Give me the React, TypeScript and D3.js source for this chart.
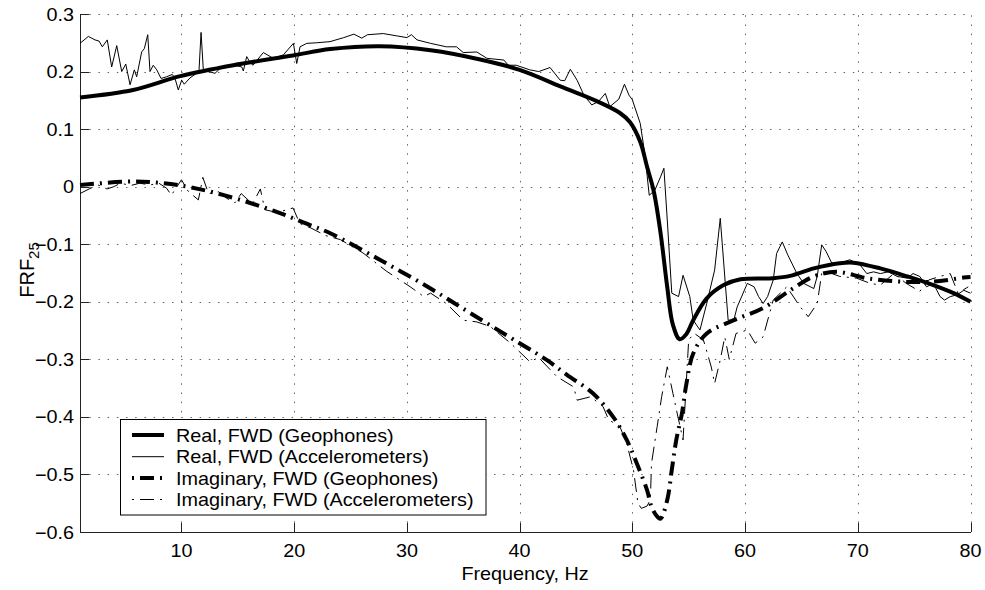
import React from "react";
import * as d3 from "d3";

// ---------- data ----------
const realGeoF = [1, 5.7, 9.9, 14.6, 19.9, 23.2, 27.6, 32.1, 36.5, 40.0, 43.9, 46.8, 48.9, 49.8, 50.7, 51.3, 51.9, 52.5, 53.1, 53.6, 54.2, 54.8, 55.4, 56.6, 58.1, 59.6, 62.5, 64.0, 66.1, 68.4, 69.6, 72.0, 74.4, 76.7, 78.5, 80];
const realGeoV = [0.155, 0.168, 0.192, 0.211, 0.228, 0.239, 0.244, 0.237, 0.221, 0.203, 0.172, 0.149, 0.128, 0.112, 0.078, 0.035, -0.008, -0.08, -0.175, -0.240, -0.265, -0.256, -0.232, -0.194, -0.171, -0.161, -0.159, -0.155, -0.142, -0.133, -0.132, -0.142, -0.156, -0.171, -0.185, -0.200];

const imagGeoF = [1, 5.7, 8.4, 10.8, 14.0, 18.2, 20.8, 23.2, 27.6, 32.1, 35.9, 40.0, 42.4, 44.2, 46.5, 48.3, 49.5, 50.4, 51.3, 51.7, 52.2, 52.5, 53.1, 53.5, 53.9, 54.4, 54.8, 55.4, 56.6, 59.0, 61.6, 64.0, 66.1, 68.1, 70.8, 73.8, 76.7, 79.4, 80];
const imagGeoV = [0.003, 0.009, 0.006, -0.001, -0.016, -0.042, -0.062, -0.081, -0.127, -0.177, -0.223, -0.272, -0.301, -0.327, -0.359, -0.400, -0.440, -0.481, -0.527, -0.556, -0.573, -0.577, -0.544, -0.492, -0.440, -0.394, -0.342, -0.290, -0.255, -0.232, -0.211, -0.180, -0.156, -0.148, -0.159, -0.165, -0.165, -0.158, -0.157];

const realAccF = [1.0, 1.74, 2.33, 2.69, 2.98, 3.42, 3.81, 4.26, 4.70, 5.06, 5.44, 5.82, 6.03, 6.47, 6.71, 7.01, 7.21, 7.50, 7.81, 8.19, 8.69, 9.19, 9.43, 9.72, 10.02, 10.25, 10.76, 11.35, 11.56, 11.74, 11.94, 12.38, 12.98, 13.57, 14.16, 14.75, 15.35, 15.49, 15.79, 16.08, 16.35, 17.26, 18.15, 19.04, 19.93, 20.23, 20.52, 21.12, 22.0, 23.18, 24.4, 25.3, 26.0, 26.5, 27.9, 29.1, 30.0, 30.4, 30.9, 32.1, 33.5, 34.4, 35.0, 36.2, 37.1, 38.6, 39.0, 39.7, 40.9, 41.7, 42.7, 43.6, 44.0, 44.5, 45.1, 45.7, 46.4, 47.0, 47.6, 48.0, 48.8, 49.3, 49.7, 50.0, 50.7, 51.1, 51.5, 52.0, 52.5, 52.8, 53.1, 53.5, 54.1, 54.5, 55.1, 55.4, 56.0, 56.6, 57.3, 57.8, 58.5, 59.0, 59.3, 60.2, 60.8, 61.2, 61.6, 62.0, 62.5, 62.8, 63.3, 63.8, 64.6, 65.2, 66.1, 66.4, 66.8, 67.2, 67.7, 68.4, 69.3, 70.2, 70.8, 71.4, 72.0, 72.7, 73.5, 74.4, 74.9, 75.5, 76.1, 76.7, 77.3, 77.7, 78.2, 78.8, 79.4, 80];
const realAccV = [0.249, 0.261, 0.255, 0.253, 0.243, 0.255, 0.208, 0.245, 0.200, 0.213, 0.177, 0.203, 0.191, 0.234, 0.240, 0.264, 0.200, 0.211, 0.203, 0.188, 0.191, 0.195, 0.188, 0.168, 0.185, 0.178, 0.189, 0.197, 0.203, 0.268, 0.203, 0.200, 0.197, 0.208, 0.208, 0.211, 0.208, 0.201, 0.226, 0.216, 0.211, 0.233, 0.223, 0.229, 0.249, 0.214, 0.243, 0.249, 0.250, 0.252, 0.259, 0.265, 0.258, 0.264, 0.266, 0.262, 0.259, 0.264, 0.255, 0.249, 0.243, 0.243, 0.233, 0.234, 0.223, 0.220, 0.211, 0.211, 0.203, 0.200, 0.207, 0.185, 0.184, 0.204, 0.185, 0.159, 0.142, 0.148, 0.162, 0.139, 0.152, 0.178, 0.159, 0.151, 0.110, 0.058, -0.015, -0.006, 0.017, 0.032, -0.058, -0.185, -0.191, -0.154, -0.191, -0.232, -0.249, -0.203, -0.145, -0.055, -0.232, -0.232, -0.209, -0.168, -0.174, -0.191, -0.203, -0.191, -0.162, -0.116, -0.096, -0.119, -0.151, -0.168, -0.177, -0.156, -0.101, -0.113, -0.133, -0.133, -0.127, -0.136, -0.151, -0.148, -0.151, -0.148, -0.156, -0.159, -0.151, -0.156, -0.174, -0.168, -0.191, -0.197, -0.191, -0.188, -0.180, -0.185];

const imagAccF = [1, 1.8, 2.6, 3.4, 4.0, 4.6, 5.5, 6.3, 7.2, 8.0, 8.7, 9.1, 9.6, 10.0, 10.6, 11.5, 11.9, 12.4, 13.3, 14.0, 14.75, 15.3, 16.3, 17.0, 17.4, 18.5, 19.9, 20.5, 21.5, 22.8, 24.1, 26.1, 28.2, 30.3, 31.5, 32.1, 33.5, 35.0, 36.2, 37.4, 39.2, 40.9, 41.7, 43.3, 44.8, 45.1, 46.3, 47.4, 47.9, 48.9, 49.5, 50.1, 50.5, 50.8, 51.3, 51.6, 51.7, 52.2, 52.6, 53.1, 53.6, 54.1, 54.5, 55.0, 55.5, 56.3, 57.0, 57.3, 57.8, 58.2, 58.6, 59.2, 60.2, 60.9, 61.6, 62.5, 63.7, 64.9, 65.6, 66.4, 66.8, 67.3, 68.4, 69.9, 71.1, 72.0, 73.2, 74.3, 75.5, 76.3, 77.3, 78.2, 78.9, 79.8];
const imagAccV = [-0.012, -0.004, 0.003, -0.004, 0.0, 0.006, 0.002, 0.006, 0.003, 0.006, -0.003, -0.015, 0.0, 0.012, -0.008, -0.023, 0.016, -0.012, -0.009, -0.020, -0.028, -0.012, -0.030, -0.004, -0.040, -0.045, -0.037, -0.064, -0.072, -0.085, -0.092, -0.115, -0.147, -0.174, -0.191, -0.185, -0.203, -0.232, -0.235, -0.243, -0.272, -0.304, -0.297, -0.330, -0.348, -0.371, -0.365, -0.382, -0.405, -0.417, -0.446, -0.492, -0.550, -0.559, -0.555, -0.544, -0.481, -0.417, -0.365, -0.313, -0.359, -0.405, -0.440, -0.266, -0.255, -0.266, -0.313, -0.342, -0.301, -0.261, -0.300, -0.255, -0.249, -0.272, -0.261, -0.197, -0.174, -0.209, -0.226, -0.203, -0.151, -0.148, -0.156, -0.159, -0.168, -0.171, -0.151, -0.168, -0.182, -0.162, -0.156, -0.151, -0.185, -0.174];

const xTicks = [10, 20, 30, 40, 50, 60, 70, 80];
const yTicks = [0.3, 0.2, 0.1, 0, -0.1, -0.2, -0.3, -0.4, -0.5, -0.6];
const legendLabels = [
  "Real, FWD (Geophones)",
  "Real, FWD (Accelerometers)",
  "Imaginary, FWD (Geophones)",
  "Imaginary, FWD (Accelerometers)",
];

// ---------- layout ----------
const W = 985;
const H = 590;
const X0 = 80;
const X1 = 970.5;
const Y0 = 532;
const Y1 = 14;
const FONT = "'Liberation Sans', Arial, Helvetica, sans-serif";
const SX = 1.1;

const x = d3.scaleLinear().domain([1, 80]).range([X0, X1]);
const y = d3.scaleLinear().domain([-0.6, 0.3]).range([Y0, Y1]);

function zip(f: number[], v: number[]): [number, number][] {
  return f.map((d, i) => [d, v[i]] as [number, number]);
}

const smooth = d3
  .line<[number, number]>()
  .x((d) => x(d[0]))
  .y((d) => y(d[1]))
  .curve(d3.curveCatmullRom.alpha(0.5));
const raw = d3
  .line<[number, number]>()
  .x((d) => x(d[0]))
  .y((d) => y(d[1]));

const fmt = (v: number) => {
  if (v === 0) return "0";
  const s = Math.abs(v).toFixed(1);
  return (v < 0 ? "\u2212" : "") + s;
};

const DASHDOT = "14 6 2 6";

export default function App() {
  const series = [
    { d: smooth(zip(realGeoF, realGeoV)), w: 4, dash: undefined as string | undefined },
    { d: raw(zip(realAccF, realAccV)), w: 1, dash: undefined },
    { d: smooth(zip(imagGeoF, imagGeoV)), w: 4, dash: DASHDOT },
    { d: raw(zip(imagAccF, imagAccV)), w: 1, dash: DASHDOT },
  ];
  const legendRows = [435, 456.7, 478, 499.5];
  return (
    <svg
      width={W}
      height={H}
      style={{ position: "absolute", left: 0, top: 0, background: "#fff" }}
      fontFamily={FONT}
    >
      <rect x={0} y={0} width={W} height={H} fill="#fff" />
      {/* grid */}
      <g stroke="#666" strokeWidth={1} strokeDasharray="1.5 7.7" fill="none">
        {yTicks.map((t) => (
          <line key={"gy" + t} x1={X0} x2={X1} y1={Math.round(y(t)) + 0.5} y2={Math.round(y(t)) + 0.5} />
        ))}
        {xTicks.map((t) => (
          <line key={"gx" + t} x1={Math.round(x(t)) + 0.5} x2={Math.round(x(t)) + 0.5} y1={Y0} y2={Y1} />
        ))}
      </g>
      {/* axes */}
      <g stroke="#222" strokeWidth={1} fill="none">
        <line x1={X0 + 0.5} x2={X0 + 0.5} y1={Y1} y2={Y0 + 0.5} />
        <line x1={X0} x2={X1 + 0.5} y1={Y0 + 0.5} y2={Y0 + 0.5} />
        {yTicks.map((t) => (
          <line key={"ty" + t} x1={X0} x2={X0 + 9} y1={Math.round(y(t)) + 0.5} y2={Math.round(y(t)) + 0.5} />
        ))}
        {xTicks.map((t) => (
          <line key={"tx" + t} x1={Math.round(x(t)) + 0.5} x2={Math.round(x(t)) + 0.5} y1={Y0} y2={Y0 - 9} />
        ))}
      </g>
      {/* tick labels */}
      <g fontSize={18} fill="#000">
        {yTicks.map((t) => (
          <text
            key={"ly" + t}
            textAnchor="end"
            transform={`translate(74,${y(t) + 6.5}) scale(${SX},1)`}
          >
            {fmt(t)}
          </text>
        ))}
        {xTicks.map((t) => (
          <text
            key={"lx" + t}
            textAnchor="middle"
            transform={`translate(${x(t)},557) scale(${SX},1)`}
          >
            {t}
          </text>
        ))}
        <text textAnchor="middle" transform={`translate(525,580) scale(${SX},1)`}>
          Frequency, Hz
        </text>
        <text textAnchor="middle" fontSize={20} transform="translate(34,270) rotate(-90)">
          FRF
          <tspan fontSize={15} dy={5}>
            25
          </tspan>
        </text>
      </g>
      {/* series */}
      <g fill="none" stroke="#000">
        {series.map((s, i) => (
          <path
            key={"s" + i}
            d={s.d || ""}
            strokeWidth={s.w}
            strokeDasharray={s.dash}
            strokeLinejoin="round"
          />
        ))}
      </g>
      {/* legend */}
      <g>
        <rect x={120.5} y={419.5} width={365.5} height={95.5} fill="#fff" stroke="#000" strokeWidth={1} />
        {legendLabels.map((lab, i) => {
          const s = series[i];
          const yy = legendRows[i];
          return (
            <g key={"lg" + i}>
              <line
                x1={132}
                x2={164}
                y1={yy}
                y2={yy}
                stroke="#000"
                strokeWidth={s.w}
                strokeDasharray={s.dash}
                strokeDashoffset={s.dash ? 20 : undefined}
              />
              <text
                fontSize={18}
                transform={`translate(176,${yy + 6.5}) scale(${SX},1)`}
              >
                {lab}
              </text>
            </g>
          );
        })}
      </g>
    </svg>
  );
}
